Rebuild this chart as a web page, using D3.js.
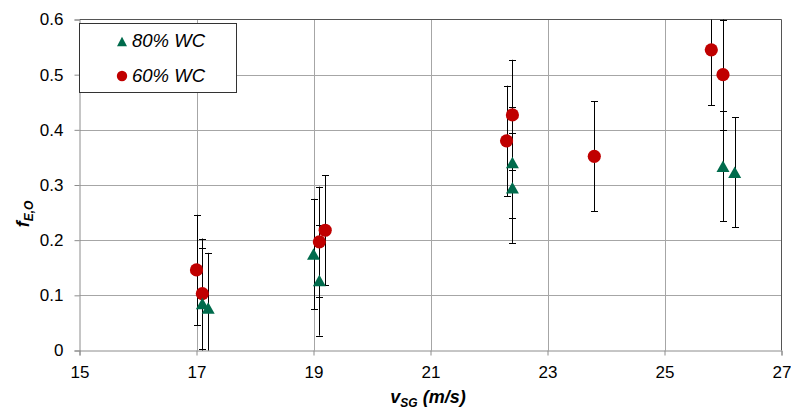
<!DOCTYPE html>
<html>
<head>
<meta charset="utf-8">
<script src="https://cdn.jsdelivr.net/npm/d3@7"></script>
<style>
  html, body { margin: 0; padding: 0; background: #fff; }
  svg { display: block; font-family: "Liberation Sans", Arial, sans-serif; }
</style>
</head>
<body>
<svg id="chart" width="791" height="411"></svg>
<script>
// Entrained oil fraction versus superficial gas velocity
const wc80X = [17.1, 17.2, 19.0, 19.1, 22.4, 22.4, 26.0, 26.2];
const wc80Y = [0.085, 0.077, 0.175, 0.127, 0.341, 0.295, 0.334, 0.323];
const wc60X = [17.0, 17.1, 19.1, 19.2, 22.3, 22.4, 23.8, 25.8, 26.0];
const wc60Y = [0.146, 0.103, 0.197, 0.218, 0.380, 0.427, 0.352, 0.545, 0.500];
const errorHalf = 0.1;
const xTicks = [15, 17, 19, 21, 23, 25, 27];
const yTicks = [0, 0.1, 0.2, 0.3, 0.4, 0.5, 0.6];
const seriesNames = ["80% WC", "60% WC"];

const svg = d3.select("#chart");
const plot = { left: 79.5, right: 781.5, top: 19.5, bottom: 350.5 };

const x = d3.scaleLinear().domain([15, 27]).range([plot.left, plot.right]);
const y = d3.scaleLinear().domain([0, 0.6]).range([plot.bottom, plot.top]);

const green = "#006b4c";
const red = "#c00000";

// gridlines
const grid = svg.append("g");
grid.selectAll("line.h").data(yTicks.slice(1, -1)).join("line")
  .attr("x1", plot.left).attr("x2", plot.right)
  .attr("y1", d => Math.round(y(d)) + 0.5).attr("y2", d => Math.round(y(d)) + 0.5)
  .attr("stroke", "#a6a6a6").attr("stroke-width", 1);
grid.selectAll("line.v").data(xTicks.slice(1, -1)).join("line")
  .attr("y1", plot.top).attr("y2", plot.bottom)
  .attr("x1", d => Math.round(x(d)) + 0.5).attr("x2", d => Math.round(x(d)) + 0.5)
  .attr("stroke", "#a6a6a6").attr("stroke-width", 1);

// plot frame (top and right)
svg.append("path")
  .attr("d", `M${plot.left},${plot.top}H${plot.right}V${plot.bottom}`)
  .attr("fill", "none").attr("stroke", "#555").attr("stroke-width", 1);

// axes
const xAxis = d3.axisBottom(x).tickValues(xTicks).tickSize(5).tickPadding(10).tickFormat(d3.format("d"));
const yAxis = d3.axisLeft(y).tickValues(yTicks).tickSize(5).tickPadding(11).tickFormat(d => d === 0 ? "0" : d3.format(".1f")(d));

const gx = svg.append("g").attr("transform", `translate(0,${plot.bottom})`).call(xAxis);
const gy = svg.append("g").attr("transform", `translate(${plot.left},0)`).call(yAxis);
[gx, gy].forEach(g => {
  g.select(".domain").attr("stroke", "#8c8c8c");
  g.selectAll(".tick line").attr("stroke", "#8c8c8c");
  g.selectAll(".tick text").attr("fill", "#000").style("font-size", "17px")
    .style("font-family", "'Liberation Sans', Arial, sans-serif");
});

// error bars
const allPts = wc60X.map((v, i) => ({ x: v, y: wc60Y[i] }))
  .concat(wc80X.map((v, i) => ({ x: v, y: wc80Y[i] })));
const bars = svg.append("g").attr("stroke", "#000").attr("stroke-width", 1);
allPts.forEach(p => {
  const lo = p.y - errorHalf, hi = p.y + errorHalf;
  const px = Math.round(x(p.x)) + 0.5;
  const y0 = y(Math.max(lo, 0)), y1 = y(Math.min(hi, 0.6));
  bars.append("line").attr("x1", px).attr("x2", px).attr("y1", y0).attr("y2", y1);
  if (lo >= 0) bars.append("line").attr("x1", px - 3.5).attr("x2", px + 3.5)
    .attr("y1", Math.round(y(lo)) + 0.5).attr("y2", Math.round(y(lo)) + 0.5);
  if (hi <= 0.6) bars.append("line").attr("x1", px - 3.5).attr("x2", px + 3.5)
    .attr("y1", Math.round(y(hi)) + 0.5).attr("y2", Math.round(y(hi)) + 0.5);
});

// triangle marker path centered on its bounding box
function tri(cx, cy, w, h) {
  return `M${cx},${cy - h / 2}L${cx + w / 2},${cy + h / 2}L${cx - w / 2},${cy + h / 2}Z`;
}

// 60% WC circles
svg.append("g").selectAll("circle").data(wc60X).join("circle")
  .attr("cx", d => x(d)).attr("cy", (d, i) => y(wc60Y[i])).attr("r", 6.6)
  .attr("fill", red);

// 80% WC triangles
svg.append("g").selectAll("path").data(wc80X).join("path")
  .attr("d", (d, i) => tri(x(d), y(wc80Y[i]), 13, 11.5))
  .attr("fill", green);

// legend
const lg = svg.append("g");
lg.append("rect").attr("x", 79.5).attr("y", 23.5).attr("width", 157).attr("height", 69)
  .attr("fill", "#fff").attr("stroke", "#333").attr("stroke-width", 1);
lg.append("path").attr("d", tri(122, 41.5, 10, 9.5)).attr("fill", green);
lg.append("circle").attr("cx", 122).attr("cy", 76).attr("r", 5.2).attr("fill", red);
lg.selectAll("text").data(seriesNames).join("text")
  .attr("x", 132).attr("y", (d, i) => i === 0 ? 46.5 : 81.5)
  .style("font-size", "18.5px").style("font-style", "italic")
  .attr("fill", "#000").text(d => d);

// axis titles
const xt = svg.append("text").attr("x", 428).attr("y", 403).attr("text-anchor", "middle")
  .style("font-size", "18px").style("font-weight", "bold").style("font-style", "italic");
xt.append("tspan").text("v");
xt.append("tspan").attr("dy", 4).style("font-size", "12px").text("SG");
xt.append("tspan").attr("dy", -4).text(" (m/s)");

const yt = svg.append("text").attr("transform", "translate(29,214) rotate(-90)")
  .attr("text-anchor", "middle")
  .style("font-size", "18px").style("font-weight", "bold").style("font-style", "italic");
yt.append("tspan").text("f");
yt.append("tspan").attr("dy", 4).style("font-size", "12px").text("E,O");
</script>
</body>
</html>
